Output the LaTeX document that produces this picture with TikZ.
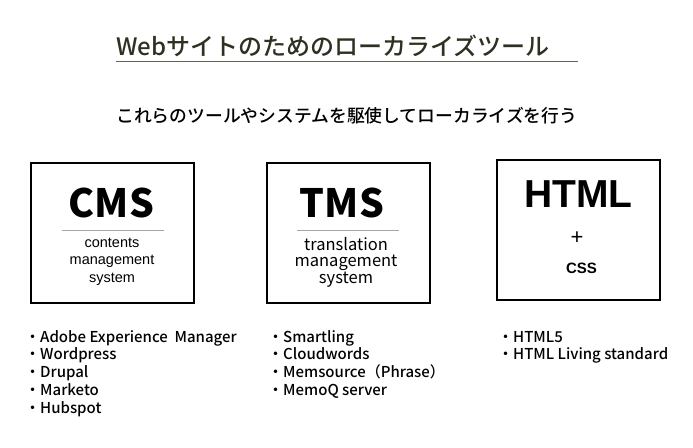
\documentclass[tikz,border=0pt]{standalone}
\usepackage{fontspec}
\setmainfont{Noto Sans CJK JP}
\newfontfamily\medfont{Noto Sans CJK JP Medium}
\newfontfamily\arialfont{Liberation Sans}
\usetikzlibrary{positioning}
\definecolor{titleink}{RGB}{48,48,34}
\tikzset{
x=1pt, y=-1pt, % one unit is one pixel of the layout, y runs downwards
toolbox/.style={draw, line width=2pt, minimum width=163pt, minimum height=140pt}, % the three frames
bigname/.style={font=\fontsize{39}{39}\selectfont\bfseries, inner sep=0pt, anchor=base}, % CMS, TMS
subline/.style={font=\arialfont\fontsize{14.5}{14.5}\selectfont, inner sep=0pt, anchor=base}, % small words in the frames
rule/.style={draw=gray!70, line width=1pt}, % the thin line under CMS and TMS
item/.style={font=\medfont\fontsize{15}{15}\selectfont, inner sep=0pt, text height=12.5pt, text depth=5pt}, % one line of a list
under/.style={below=0pt of #1.south west, anchor=north west}, % next line of a list
}

\begin{document}
\begin{tikzpicture}
    \useasboundingbox (0,0) rectangle (693,447);
    % heading
    \node[anchor=base west, inner sep=0pt, text=titleink, font=\medfont\fontsize{24}{24}\selectfont] (title) at (116,55) {Webサイトのためのローカライズツール};
    \draw[titleink!75, line width=1.3pt] (116,61.5) -- (578,61.5);
    \node[anchor=base west, inner sep=0pt, font=\medfont\fontsize{17.8}{17.8}\selectfont] (lead) at (116,122) {これらのツールやシステムを駆使してローカライズを行う};

    % frames
    \node[toolbox] (cmsbox) at (112.5,233) {};
    \node[toolbox] (tmsbox) at (348,232.5) {};
    \node[toolbox] (htmlbox) at (578.5,230) {};

    % CMS
    \node[bigname] (cms) at (111.5,217) {CMS};
    \draw[rule] (62,230) -- (164,230);
    \node[subline] (cms1) at (112,247) {contents};
    \node[subline] (cms2) at (112,264.5) {management};
    \node[subline] (cms3) at (112,282) {system};

    % TMS
    \node[bigname] (tms) at (342,217) {TMS};
    \draw[rule] (297,230) -- (399,230);
    \node[subline, font=\fontsize{16.5}{16.5}\selectfont] (tms1) at (346,250) {translation};
    \node[subline, font=\fontsize{16.5}{16.5}\selectfont] (tms2) at (346,266.5) {management};
    \node[subline, font=\fontsize{16.5}{16.5}\selectfont] (tms3) at (346,283) {system};

    % HTML + CSS
    \node[bigname, font=\arialfont\fontsize{39}{39}\selectfont\bfseries] (html) at (578.5,207) {HTML};
    \node[font=\arialfont\fontsize{22}{22}\selectfont, inner sep=0pt] (plus) at (577,238) {+};
    \node[subline, font=\arialfont\fontsize{15}{15}\selectfont\bfseries] (css) at (581.5,273) {CSS};

    % lists
    \node[item, anchor=base west] (cmsa) at (25,342) {・Adobe Experience\hspace{0.45em}Manager};
    \node[item, under=cmsa] (cmsb) {・Wordpress};
    \node[item, under=cmsb] (cmsc) {・Drupal};
    \node[item, under=cmsc] (cmsd) {・Marketo};
    \node[item, under=cmsd] (cmse) {・Hubspot};

    \node[item, anchor=base west] (tmsa) at (268,342) {・Smartling};
    \node[item, under=tmsa] (tmsb) {・Cloudwords};
    \node[item, under=tmsb] (tmsc) {・Memsource（Phrase）};
    \node[item, under=tmsc] (tmsd) {・MemoQ server};

    \node[item, anchor=base west] (htmla) at (498,342) {・HTML5};
    \node[item, under=htmla] (htmlb) {・HTML Living standard};
\end{tikzpicture}
\end{document}
